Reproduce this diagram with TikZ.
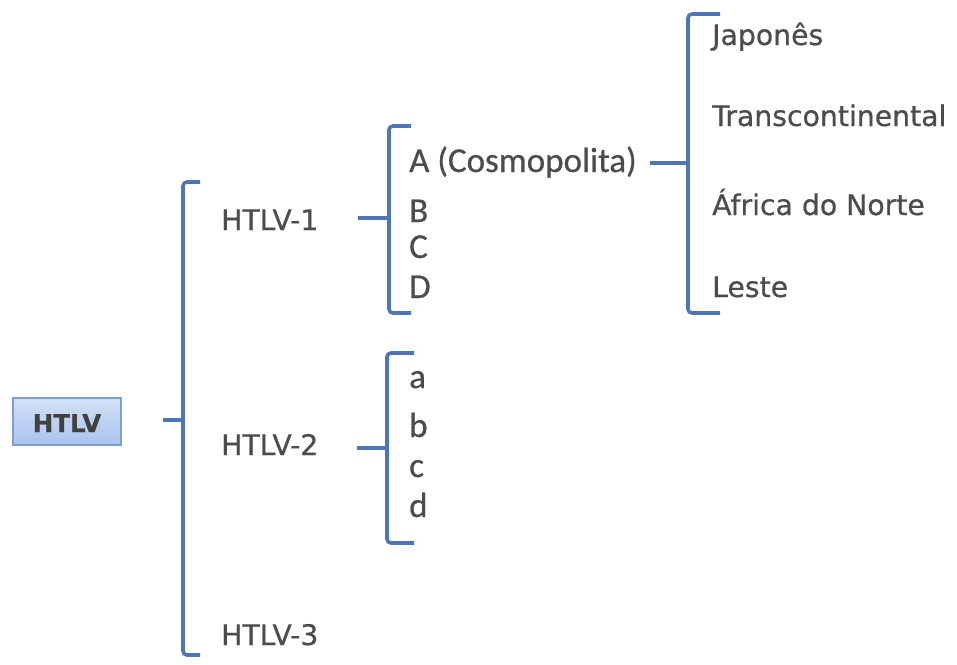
\documentclass[tikz,border=0pt]{standalone}
\usepackage{fontspec}
\setmainfont{DejaVu Sans}[FakeBold=0.6]
\newfontfamily\calib{Carlito}[FakeBold=0.6]
\definecolor{brk}{HTML}{4F76B4}
\definecolor{txt}{HTML}{4C4C4C}
\definecolor{boxtop}{HTML}{D3E0F7}
\definecolor{boxbot}{HTML}{A9C3EE}
\definecolor{boxline}{HTML}{7F9FD3}
\tikzset{
  brkline/.style={draw=brk, line width=3.6pt, rounded corners=4pt},
  lbl/.style={anchor=base west, inner sep=0pt, text=txt, font=\fontsize{28.3}{30}\selectfont},
  clbl/.style={anchor=base west, inner sep=0pt, text=txt, font=\calib\fontsize{35}{36}\selectfont},
  rootbox/.style={draw=boxline, line width=1.2pt, top color=boxtop, bottom color=boxbot, minimum width=108pt, minimum height=47pt, inner sep=0pt}
}
\begin{document}
\begin{tikzpicture}[x=1pt,y=-1pt]
\useasboundingbox (0,0) rectangle (957,664);
\fill[white] (0,0) rectangle (957,664);
% root
\node[rootbox] (root) at (67,421.5) {};
\node[anchor=base, inner sep=0pt, text=txt!85!black, font=\bfseries\fontsize{24.5}{26}\selectfont] (roottxt) at (67,432) {HTLV};
% main bracket
\coordinate (m0) at (163,420);
\draw[brkline] (200,182) -- (183,182) -- (183,420) -- (183,655) -- (200,655);
\draw[brk, line width=3.6pt] (m0) -- (183,420);
% level 1 labels
\node[lbl] (h1) at (221,230) {HTLV-1};
\node[lbl] (h2) at (221,455) {HTLV-2};
\node[lbl] (h3) at (221,645) {HTLV-3};
% bracket for HTLV-1
\coordinate (t1) at (358,218);
\draw[brkline] (411,126) -- (389,126) -- (389,218) -- (389,313) -- (411,313);
\draw[brk, line width=3.6pt] (t1) -- (389,218);
\node[clbl] (A) at (409,172) {A (Cosmopolita)};
\node[clbl] (B) at (409,222) {B};
\node[clbl] (C) at (409,258) {C};
\node[clbl] (D) at (409,298) {D};
% bracket for HTLV-2
\coordinate (t2) at (357,448);
\draw[brkline] (414,353) -- (387,353) -- (387,448) -- (387,543) -- (414,543);
\draw[brk, line width=3.6pt] (t2) -- (387,448);
\node[clbl] (a) at (409,388) {a};
\node[clbl] (b) at (409,437) {b};
\node[clbl] (c) at (409,477) {c};
\node[clbl] (d) at (409,517) {d};
% bracket for A
\coordinate (t3) at (650,163);
\draw[brkline] (720,14) -- (688,14) -- (688,163) -- (688,313) -- (720,313);
\draw[brk, line width=3.6pt] (t3) -- (688,163);
\node[lbl] (jp) at (712,45) {Japonês};
\node[lbl] (tc) at (712,126) {Transcontinental};
\node[lbl] (af) at (712,215) {África do Norte};
\node[lbl] (le) at (712,297) {Leste};
\end{tikzpicture}
\end{document}
